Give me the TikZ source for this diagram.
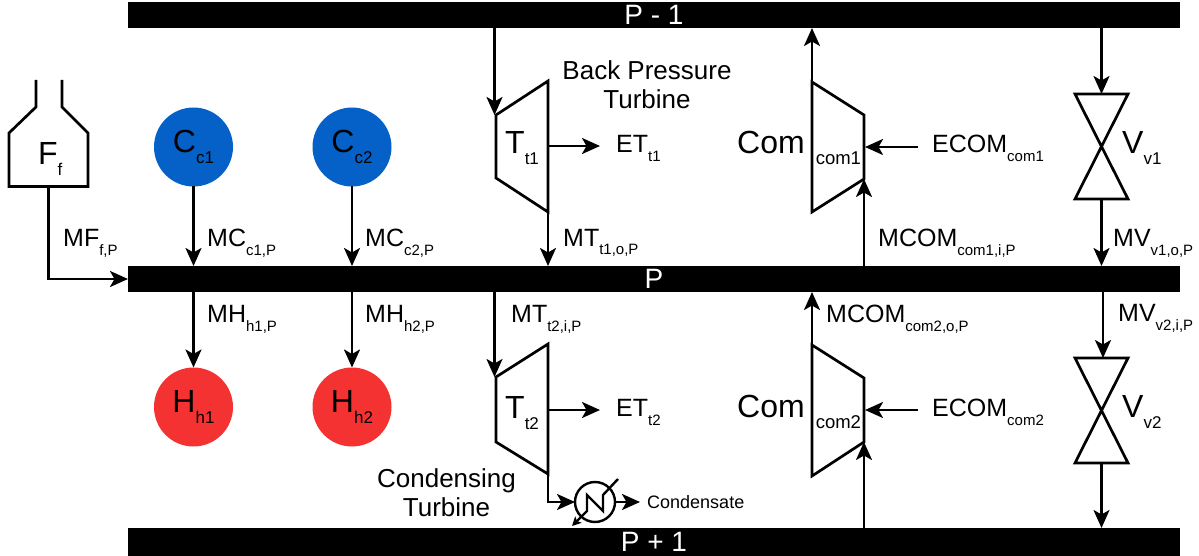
\documentclass[tikz,border=0pt]{standalone}
\usepackage{fontspec}
\setmainfont{Liberation Sans}
\usetikzlibrary{arrows.meta}
\definecolor{coldblue}{RGB}{5, 97, 200}
\definecolor{hotred}{RGB}{245, 50, 50}
\newcommand{\bigsb}[1]{\raisebox{-11pt}{\fontsize{17}{17}\selectfont #1}}
\newcommand{\comsb}[1]{\raisebox{-11pt}{\fontsize{18.5}{18.5}\selectfont #1}}
\newcommand{\lblsb}[1]{\raisebox{-9pt}{\fontsize{15}{15}\selectfont #1}}
\tikzset{
    bus/.style={fill=black, text=white, inner sep=0pt, outer sep=0pt, minimum width=1052pt, text height=19pt, text depth=0pt, font=\fontsize{28}{28}\selectfont},
    stream/.style={draw=none, circle, inner sep=0pt, outer sep=0pt, minimum size=79pt, text height=16pt, text depth=5pt, font=\fontsize{32}{32}\selectfont},
    equip/.style={line width=2.7pt, line join=miter},
    flow/.style={line width=2.6pt, -{Stealth[length=18pt,width=16pt,inset=4.5pt]}},
    biglbl/.style={anchor=base west, inner sep=0pt, font=\fontsize{32}{32}\selectfont},
    flowlbl/.style={anchor=base west, inner sep=0pt, font=\fontsize{25}{25}\selectfont},
    notelbl/.style={align=center, inner sep=0pt, font=\fontsize{26}{29}\selectfont}
}
\begin{document}
\begin{tikzpicture}[x=1pt, y=-1pt]
            \useasboundingbox (0,0) rectangle (1199,556);
            \node[bus, minimum height=26pt] (bustop) at (654,15) {P - 1};
            \node[bus, minimum height=26pt] (busmid) at (654,279) {P};
            \node[bus, minimum height=28pt] (busbot) at (654,542) {P + 1};

            \draw[equip] (36,80) -- (36,107) -- (9,133) -- (9,186.5) -- (88,186.5) -- (88,133) -- (62,107) -- (62,80);
            \coordinate (fout) at (48.5,186.5);
            \node[biglbl] (ff) at (38,165) {F\bigsb{f}};
            \draw[flow] (fout) |- (busmid.west);
            \node[flowlbl] (lblmf) at (63,247) {MF\lblsb{f,P}};

            \node[stream, fill=coldblue] (c1) at (193.5,147) {C\bigsb{c1}};
            \node[stream, fill=coldblue] (c2) at (352,147) {C\bigsb{c2}};
            \node[stream, fill=hotred] (h1) at (193.5,407) {H\bigsb{h1}};
            \node[stream, fill=hotred] (h2) at (352,407) {H\bigsb{h2}};
            \draw[flow] (c1.south) -- (c1.south |- busmid.north);
            \draw[flow] (c2.south) -- (c2.south |- busmid.north);
            \draw[flow] (h1.north |- busmid.south) -- (h1.north);
            \draw[flow] (h2.north |- busmid.south) -- (h2.north);
            \node[flowlbl] (lblmc1) at (207,247) {MC\lblsb{c1,P}};
            \node[flowlbl] (lblmc2) at (365,247) {MC\lblsb{c2,P}};
            \node[flowlbl] (lblmh1) at (207,322) {MH\lblsb{h1,P}};
            \node[flowlbl] (lblmh2) at (365,322) {MH\lblsb{h2,P}};

            \draw[equip] (496,115) -- (548,81) -- (548,212) -- (496,178) -- cycle;
            \coordinate (t1in) at (494.5,115);
            \coordinate (t1out) at (548,212);
            \coordinate (t1e) at (549,146);
            \node[biglbl] (t1) at (505,154) {T\bigsb{t1}};
            \node[flowlbl] (lblet1) at (616,153) {ET\lblsb{t1}};
            \node[flowlbl] (lblmt1) at (563,246) {MT\lblsb{t1,o,P}};
            \node[notelbl] (lblback) at (647,85) {Back Pressure\\Turbine};
            \draw[flow] (t1in |- bustop.south) -- (t1in);
            \draw[flow] (t1out) -- (t1out |- busmid.north);
            \draw[flow] (t1e) -- ([xshift=-16pt]t1e -| lblet1.west);

            \draw[equip] (496,377) -- (548,344) -- (548,474) -- (496,442) -- cycle;
            \coordinate (t2in) at (494.5,377);
            \coordinate (t2out) at (548,474);
            \coordinate (t2e) at (549,410);
            \node[biglbl] (t2) at (505,418) {T\bigsb{t2}};
            \node[flowlbl] (lblet2) at (616,416) {ET\lblsb{t2}};
            \node[flowlbl] (lblmt2) at (511,322) {MT\lblsb{t2,i,P}};
            \node[notelbl] (lblcond) at (446.5,493) {Condensing\\Turbine};
            \draw[flow] (t2in |- busmid.south) -- (t2in);
            \draw[flow] (t2e) -- ([xshift=-16pt]t2e -| lblet2.west);

            \node[draw, circle, line width=2.4pt, inner sep=0pt, outer sep=0pt, minimum size=40pt] (cond) at (595,502) {};
            \node[anchor=base west, inner sep=0pt, font=\fontsize{18}{18}\selectfont] (lblcondens) at (647,508) {Condensate};
            \coordinate (cwin) at (618,479);
            \coordinate (cwout) at (572,526);
            \draw[flow] (t2out) |- (cond.west);
            \draw[flow] (cond.east) -- ([xshift=-7pt]cond.east -| lblcondens.west);
            \draw[line width=2.4pt, line join=miter, -{Stealth[length=9pt,width=9pt,inset=2pt]}] (cwin) -- (603,495) -- (603,511) -- (587,495) -- (587,511) -- (cwout);

            \draw[equip] (812,82) -- (864,115) -- (864,179) -- (812,212) -- cycle;
            \coordinate (com1out) at (812,82);
            \coordinate (com1in) at (864,179);
            \coordinate (com1e) at (865,147);
            \node[biglbl] (com1) at (737,154) {Com\hspace{11pt}\comsb{com1}};
            \node[flowlbl] (lblecom1) at (932,153) {ECOM\lblsb{com1}};
            \node[flowlbl] (lblmcom1) at (878,247) {MCOM\lblsb{com1,i,P}};
            \draw[flow] (com1out) -- (com1out |- bustop.south);
            \draw[flow] (com1in |- busmid.north) -- (com1in);
            \draw[flow] ([xshift=-14pt]com1e -| lblecom1.west) -- (com1e);

            \draw[equip] (812,345) -- (864,378) -- (864,442) -- (812,476) -- cycle;
            \coordinate (com2out) at (812,345);
            \coordinate (com2in) at (864,442);
            \coordinate (com2e) at (865,410);
            \node[biglbl] (com2) at (737,417) {Com\hspace{11pt}\comsb{com2}};
            \node[flowlbl] (lblecom2) at (932,416) {ECOM\lblsb{com2}};
            \node[flowlbl] (lblmcom2) at (826,322) {MCOM\lblsb{com2,o,P}};
            \draw[flow] (com2out) -- (com2out |- busmid.south);
            \draw[flow] (com2in |- busbot.north) -- (com2in);
            \draw[flow] ([xshift=-14pt]com2e -| lblecom2.west) -- (com2e);

            \draw[equip] (1075,94) -- (1128,94) -- (1075,199) -- (1128,199) -- cycle;
            \coordinate (v1top) at (1101.5,94);
            \coordinate (v1bot) at (1101.5,199);
            \node[biglbl] (v1) at (1122,154) {V\bigsb{v1}};
            \node[flowlbl] (lblmv1) at (1113,247) {MV\lblsb{v1,o,P}};
            \draw[flow] (v1top |- bustop.south) -- (v1top);
            \draw[flow] (v1bot) -- (v1bot |- busmid.north);

            \draw[equip] (1075,358) -- (1128,358) -- (1075,463) -- (1128,463) -- cycle;
            \coordinate (v2top) at (1103,358);
            \coordinate (v2bot) at (1101.5,463);
            \node[biglbl] (v2) at (1122,417) {V\bigsb{v2}};
            \node[flowlbl] (lblmv2) at (1118,321) {MV\lblsb{v2,i,P}};
            \draw[flow] (v2top |- busmid.south) -- (v2top);
            \draw[flow] (v2bot) -- (v2bot |- busbot.north);
        \end{tikzpicture}
\end{document}
